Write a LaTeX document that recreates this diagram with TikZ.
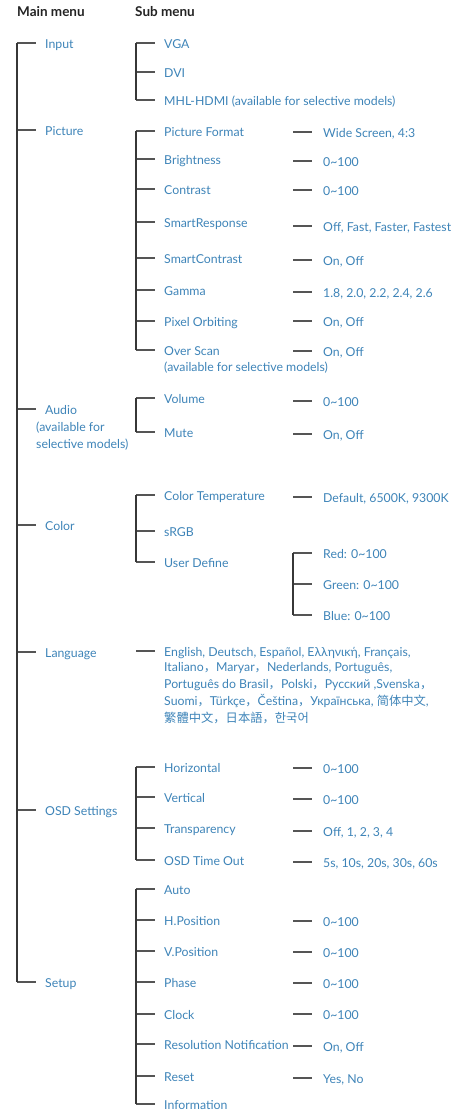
\documentclass[tikz,border=0pt]{standalone}
\usepackage{fontspec}
\setmainfont{Lato}
\newfontfamily\cjk{Noto Sans CJK SC}
\usetikzlibrary{positioning}
\definecolor{menublue}{RGB}{62,132,184}
\definecolor{lineink}{RGB}{55,55,55}
\definecolor{headink}{RGB}{35,35,35}
\newcommand{\fcomma}{{\cjk ，}}
\tikzset{
  head/.style={font=\bfseries\fontsize{13.5}{15}\selectfont,text=headink,anchor=west,inner sep=0pt},
  item/.style={font=\fontsize{12.3}{14}\selectfont,text=menublue,anchor=west,inner sep=0pt,
    text height=10.5pt,text depth=0pt},
  note/.style={font=\fontsize{12.3}{17}\selectfont,text=menublue,anchor=north west,inner sep=0pt,align=left},
  tree/.style={draw=lineink,line width=1.1pt},
  tick/.style={draw=lineink!85,line width=1.2pt},
}

\begin{document}
\begin{tikzpicture}[x=1pt,y=-1pt]
  \useasboundingbox (0,0) rectangle (462,1111);
  \node[head] (h-main) at (17,12) {Main menu};
  \node[head] (h-sub) at (135,12) {Sub menu};
  % main menu
  \foreach \n/\t/\y in {input/Input/43,picture/Picture/130,audio/Audio/409,color/Color/525,
      lang/Language/652,osd/OSD Settings/810,setup/Setup/982}
  {
    \node[item] (m-\n) at (45,\y) {\t};
    \draw[tick] ([xshift=-28pt]m-\n.west) -- ([xshift=-9pt]m-\n.west);
  }
  \draw[tree] ([xshift=-28pt]m-input.west) -- ([xshift=-28pt]m-setup.west);
  \node[note] (m-audio-note) at (36,422) {(available for\\selective models)};
  % sub menus
  \foreach \n/\t/\y in {vga/VGA/43,dvi/DVI/72,hdmi/MHL-HDMI (available for selective models)/100,
      pf/Picture Format/131,bright/Brightness/159,contr/Contrast/189,sresp/SmartResponse/222,
      scontr/SmartContrast/258,gamma/Gamma/290,pixel/Pixel Orbiting/321,over/Over Scan/350,
      vol/Volume/398,mute/Mute/432,
      ctemp/Color Temperature/495,srgb/sRGB/531,user/User Define/562,
      lang/{English, Deutsch, Español, Ελληνική, Français,}/651,
      hor/Horizontal/767,ver/Vertical/797,trans/Transparency/828,tout/OSD Time Out/860,
      auto/Auto/889,hpos/H.Position/920,vpos/V.Position/951,phase/Phase/982,clock/Clock/1014,
      res/Resolution Notification/1044,reset/Reset/1076,info/Information/1104}
  {
    \node[item] (s-\n) at (164,\y) {\t};
    \draw[tick] ([xshift=-28pt]s-\n.west) -- ([xshift=-9pt]s-\n.west);
  }
  \node[note] (s-over-note) at (164,362) {(available for selective models)};
  \node[note] (s-lang-more) at (164,662)
    {Italiano\fcomma Maryar\fcomma Nederlands, Português,\\
     Português do Brasil\fcomma Polski\fcomma Русский ,Svenska\fcomma\\
     Suomi\fcomma Türkçe\fcomma Čeština\fcomma Українська, {\cjk 简体中文},\\
     {\cjk 繁體中文，日本語，한국어}};
  \foreach \a/\b in {vga/hdmi,pf/over,vol/mute,ctemp/user,hor/tout,auto/info}
    \draw[tree] ([xshift=-28pt]s-\a.west) -- ([xshift=-28pt]s-\b.west);
  % values
  \foreach \n/\t/\y in {pf/{Wide Screen, 4:3}/132,bright/0\textasciitilde100/161,contr/0\textasciitilde100/190,
      sresp/{Off, Fast, Faster, Fastest}/226,scontr/{On, Off}/260,gamma/{1.8, 2.0, 2.2, 2.4, 2.6}/292,
      pixel/{On, Off}/321,over/{On, Off}/351,vol/0\textasciitilde100/401,mute/{On, Off}/434,
      ctemp/{Default, 6500K, 9300K}/497,
      red/Red: 0\textasciitilde100/553,green/Green: 0\textasciitilde100/584,blue/Blue: 0\textasciitilde100/615,
      hor/0\textasciitilde100/768,ver/0\textasciitilde100/799,trans/{Off, 1, 2, 3, 4}/831,
      tout/{5s, 10s, 20s, 30s, 60s}/862,
      hpos/0\textasciitilde100/921,vpos/0\textasciitilde100/952,phase/0\textasciitilde100/983,
      clock/0\textasciitilde100/1014,res/{On, Off}/1046,reset/{Yes, No}/1078}
  {
    \node[item] (v-\n) at (323,\y) {\t};
    \draw[tick] ([xshift=-30pt]v-\n.west) -- ([xshift=-11pt]v-\n.west);
  }
  \draw[tree] ([xshift=-30pt]v-red.west) -- ([xshift=-30pt]v-blue.west);
\end{tikzpicture}
\end{document}
